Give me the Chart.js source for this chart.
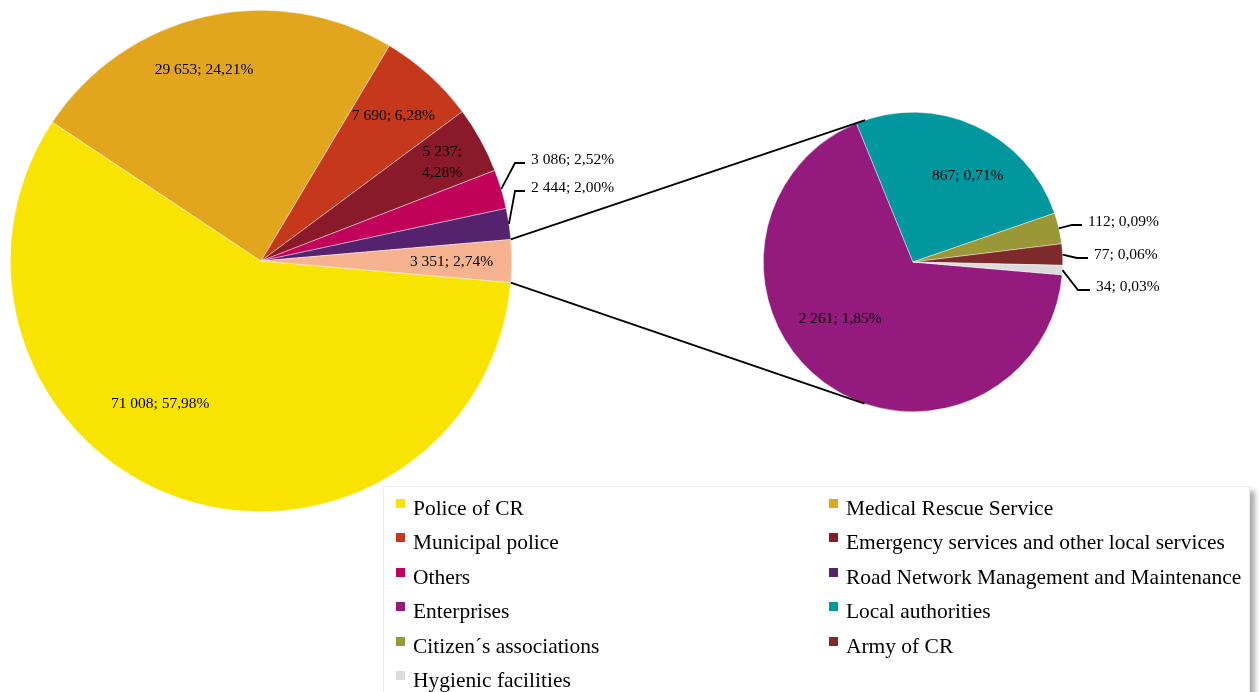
<!DOCTYPE html>
<html>
<head>
<meta charset="utf-8">
<script src="https://cdn.jsdelivr.net/npm/chart.js@4/dist/chart.umd.min.js"></script>
<style>
  body { margin: 0; width: 1259px; height: 692px; overflow: hidden; background: #fff; position: relative; }
  canvas { position: absolute; left: 0; top: 0; }
  #legend {
    position: absolute; left: 383px; top: 486px; width: 867px; height: 222px;
    box-sizing: border-box; background: #fff; border: 1px solid #ececec;
    box-shadow: 5px 5px 5px rgba(0, 0, 0, 0.32);
    padding: 4px 0 0 12px;
    display: grid; grid-template-columns: 433px auto; grid-auto-rows: 34.4px;
    font: 21.45px "Liberation Serif", "Times New Roman", serif; line-height: 34.4px; color: #000;
  }
  #legend .item { position: relative; padding-left: 17px; white-space: nowrap; }
  #legend .item i { position: absolute; left: 0; top: 8px; width: 9px; height: 9px; }
</style>
</head>
<body>
<canvas id="mainPie" width="1259" height="530"></canvas>
<canvas id="subPie" width="1259" height="530"></canvas>
<div id="legend"></div>
<script>
"use strict";

// Main pie categories and counts
const mainLabels = ["Police of CR", "Medical Rescue Service", "Municipal police",
    "Emergency services and other local services", "Others", "Road Network Management and Maintenance"];
const mainValues = [71008, 29653, 7690, 5237, 3086, 2444];
const mainColors = ["#F9E300", "#E1A61E", "#C5381B", "#8A1A2A", "#C2025A", "#55226D"];

// Secondary pie (split out of the "other" slice)
const subLabels = ["Enterprises", "Local authorities", "Citizen\u00b4s associations", "Army of CR", "Hygienic facilities"];
const subValues = [2261, 867, 112, 77, 34];
const subColors = ["#951A7E", "#00979F", "#9A9737", "#7F2A2A", "#DBDBDB"];
const otherColor = "#F7B28F";

const LABEL_FONT = '15.5px "Liberation Serif", "Times New Roman", serif';
const DIGIT_HALF = 5.2;   // half digit height, to centre text vertically

const otherTotal = subValues.reduce((a, b) => a + b, 0);
const grandTotal = mainValues.reduce((a, b) => a + b, 0) + otherTotal;

// Excel centres the "other" slice on 3 o'clock; both pies share the start angle
const startDeg = (otherTotal / grandTotal) * 360 / 2;
const pieRotation = 90 + startDeg;

// Label placement: inner labels by angle/radius, outer ones by leader elbow (px from centre)
const mainLabelLayout = [
    { angle: 125.4, r: 0.694 },
    { angle: 253.5, r: 0.80 },
    { r: 0.787 },
    { r: 0.825, wrap: true },
    { elbow: [254, -98], end: 264 },
    { elbow: [254, -70], end: 264 },
    { r: 0.76 }
];
const subLabelLayout = [
    { angle: 142.5, r: 0.613 },
    { angle: 302, r: 0.69 },
    { elbow: [159, -37], end: 169 },
    { elbow: [164, -4], end: 175 },
    { elbow: [165, 28], end: 177 }
];

function formatLabel(v) {
    const num = String(v).replace(/\B(?=(\d{3})+(?!\d))/g, " ");
    const pct = (v / grandTotal * 100).toFixed(2).replace(".", ",");
    return num + "; " + pct + "%";
}

// Draws the data labels (with leader lines for the thin slices)
const sliceLabels = {
    id: "sliceLabels",
    afterDatasetsDraw(chart, args, opts) {
        const ctx = chart.ctx;
        const values = chart.data.datasets[0].data;
        ctx.save();
        ctx.font = LABEL_FONT;
        ctx.fillStyle = "#000";
        ctx.strokeStyle = "#000";
        ctx.lineWidth = 1.8;
        chart.getDatasetMeta(0).data.forEach((arc, i) => {
            const place = opts.layout[i];
            const p = arc.getProps(["x", "y", "startAngle", "endAngle", "outerRadius"], true);
            const mid = (p.startAngle + p.endAngle) / 2;
            const text = formatLabel(values[i]);
            if (place.elbow) {
                const ex = p.x + Math.cos(mid) * p.outerRadius;
                const ey = p.y + Math.sin(mid) * p.outerRadius;
                const bx = p.x + place.elbow[0], by = p.y + place.elbow[1];
                ctx.beginPath();
                ctx.moveTo(ex, ey);
                ctx.lineTo(bx, by);
                ctx.lineTo(p.x + place.end, by);
                ctx.stroke();
                ctx.textAlign = "left";
                ctx.textBaseline = "alphabetic";
                ctx.fillText(text, p.x + place.end + 6, by - 4 + DIGIT_HALF);
            } else {
                const ang = place.angle !== undefined ? place.angle * Math.PI / 180 : mid;
                const cx = p.x + Math.cos(ang) * place.r * p.outerRadius;
                const cy = p.y + Math.sin(ang) * place.r * p.outerRadius;
                const lines = place.wrap ? text.split(/(?<=;) /) : [text];
                ctx.textAlign = "center";
                ctx.textBaseline = "alphabetic";
                lines.forEach((ln, k) => {
                    ctx.fillText(ln, cx, cy + (k - (lines.length - 1) / 2) * 21 + DIGIT_HALF);
                });
            }
        });
        ctx.restore();
    }
};

function tangentPoint(px, py, cx, cy, r, sign) {
    const d = Math.hypot(px - cx, py - cy);
    const a = Math.atan2(py - cy, px - cx) + sign * Math.acos(r / d);
    return [cx + r * Math.cos(a), cy + r * Math.sin(a)];
}

let mainChart = null;

// Lines joining the "other" slice to the secondary pie
const pieConnectors = {
    id: "pieConnectors",
    afterDraw(chart) {
        if (!mainChart) return;
        const mainArcs = mainChart.getDatasetMeta(0).data;
        const other = mainArcs[mainArcs.length - 1]
            .getProps(["x", "y", "startAngle", "endAngle", "outerRadius"], true);
        const sub = chart.getDatasetMeta(0).data[0].getProps(["x", "y", "outerRadius"], true);
        const ctx = chart.ctx;
        ctx.save();
        ctx.strokeStyle = "#000";
        ctx.lineWidth = 1.8;
        [[other.startAngle, 1], [other.endAngle, -1]].forEach(([a, sign]) => {
            const px = other.x + Math.cos(a) * other.outerRadius;
            const py = other.y + Math.sin(a) * other.outerRadius;
            const t = tangentPoint(px, py, sub.x, sub.y, sub.outerRadius, sign);
            ctx.beginPath();
            ctx.moveTo(px, py);
            ctx.lineTo(t[0], t[1]);
            ctx.stroke();
        });
        ctx.restore();
    }
};

function pieOptions(padding, layout) {
    return {
        responsive: false,
        animation: false,
        events: [],
        rotation: pieRotation,
        layout: { padding: padding },
        plugins: {
            legend: { display: false },
            tooltip: { enabled: false },
            sliceLabels: { layout: layout }
        }
    };
}

mainChart = new Chart(document.getElementById("mainPie"), {
    type: "pie",
    data: {
        labels: mainLabels.concat(["Other"]),
        datasets: [{
            data: mainValues.concat([otherTotal]),
            backgroundColor: mainColors.concat([otherColor]),
            borderColor: "rgba(255,255,255,0.7)",
            borderWidth: 0.6
        }]
    },
    options: pieOptions({ left: 10, top: 10, right: 747, bottom: 18 }, mainLabelLayout),
    plugins: [sliceLabels]
});

new Chart(document.getElementById("subPie"), {
    type: "pie",
    data: {
        labels: subLabels,
        datasets: [{
            data: subValues,
            backgroundColor: subColors,
            borderColor: "rgba(255,255,255,0.7)",
            borderWidth: 0.6
        }]
    },
    options: pieOptions({ left: 763, top: 112, right: 196, bottom: 118 }, subLabelLayout),
    plugins: [sliceLabels, pieConnectors]
});

// Two-column legend built from the same arrays
const legend = document.getElementById("legend");
mainLabels.concat(subLabels).forEach((name, i) => {
    const item = document.createElement("div");
    item.className = "item";
    const swatch = document.createElement("i");
    swatch.style.background = mainColors.concat(subColors)[i];
    item.appendChild(swatch);
    item.appendChild(document.createTextNode(name));
    legend.appendChild(item);
});
</script>
</body>
</html>
